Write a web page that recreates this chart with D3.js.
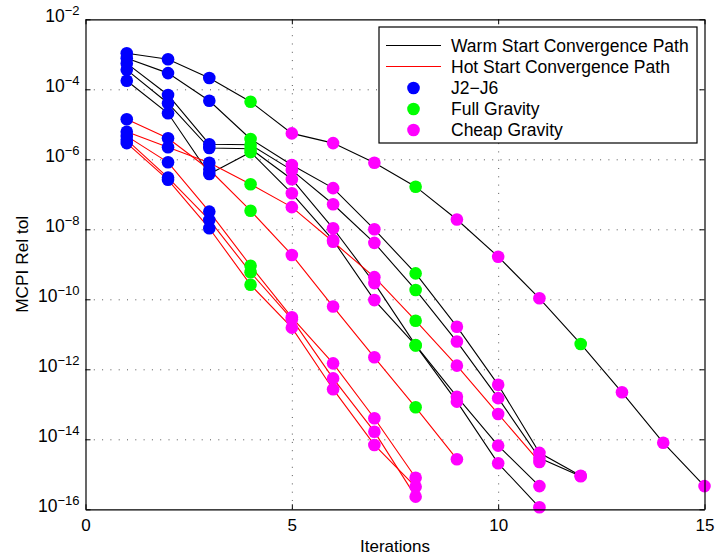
<!DOCTYPE html>
<html>
<head>
<meta charset="utf-8">
<script src="https://cdn.jsdelivr.net/npm/d3@7"></script>
<style>
  html, body { margin: 0; padding: 0; background: #fff; }
  svg { display: block; font-family: "Liberation Sans", Arial, Helvetica, sans-serif; }
</style>
</head>
<body>
<svg id="chart" width="716" height="558"></svg>
<script>
// MCPI relative tolerance per iteration; each array is one convergence run,
// first value at iteration 1.
const warm1 = [1.07e-3, 7.2e-4, 2.1e-4, 4.4e-5, 5.5e-6, 2.9e-6, 8.0e-7, 1.65e-7, 1.9e-8, 1.65e-9, 1.07e-10, 5.3e-12, 2.2e-13, 8.0e-15, 4.6e-16];
const warm2 = [7.7e-4, 2.9e-4, 4.7e-5, 3.8e-6, 6.9e-7, 1.5e-7, 1.0e-8, 5.5e-10, 1.65e-11, 3.6e-13, 4.1e-15, 9.1e-16];
const warm3 = [5.5e-4, 6.9e-5, 2.7e-6, 2.6e-6, 4.9e-7, 5.2e-8, 4.1e-9, 1.85e-10, 6.2e-12, 1.5e-13, 2.9e-15, 8.8e-16];
const warm4 = [3.6e-4, 4.0e-5, 2.1e-6, 2.0e-6, 2.7e-7, 1.07e-8, 2.9e-10, 4.9e-12, 1.65e-13, 6.6e-15, 4.6e-16];
const warm5 = [1.76e-4, 2.06e-5, 3.8e-7, 1.6e-6, 1.07e-7, 4.9e-9, 9.5e-11, 4.8e-12, 1.19e-13, 2.06e-15, 1.14e-16];

const hot1 = [4.6e-6, 8.2e-7, 3.2e-8, 9.1e-10, 3.06e-11, 1.48e-12, 4.0e-14, 8.0e-16];
const hot2 = [3.6e-6, 3.0e-7, 1.85e-8, 5.9e-10, 2.7e-11, 5.5e-13, 1.65e-14, 2.3e-16];
const hot3 = [2.9e-6, 2.6e-7, 1.07e-8, 2.6e-10, 1.55e-11, 2.7e-13, 6.9e-15, 4.4e-16];
const hot4 = [1.39e-5, 4.0e-6, 5.1e-7, 3.4e-8, 1.85e-9, 6.2e-11, 2.2e-12, 8.2e-14, 2.7e-15];
const hot5 = [6.1e-6, 2.2e-6, 8.0e-7, 1.93e-7, 4.3e-8, 4.4e-9, 4.3e-10, 2.45e-11, 1.27e-12, 5.3e-14, 2.25e-15];

const warmPaths = [warm1, warm2, warm3, warm4, warm5];
const hotPaths = [hot1, hot2, hot3, hot4, hot5];

const xTicks = [0, 5, 10, 15];
const yTickExponents = [-2, -4, -6, -8, -10, -12, -14, -16];

const legendLabels = ["Warm Start Convergence Path", "Hot Start Convergence Path", "J2\u2212J6", "Full Gravity", "Cheap Gravity"];
const xLabel = "Iterations";
const yLabel = "MCPI Rel tol";

// Force model used at a given iteration of a run
const modelColors = { j2j6: "#0000ff", full: "#00ff00", cheap: "#ff00ff" };
function modelAt(iter, lastIter) {
  if (iter <= 3) return "j2j6";
  if (iter === lastIter) return "cheap";
  return iter % 4 === 0 ? "full" : "cheap";
}

const svg = d3.select("#chart");
const W = 716, H = 558;
const plot = { left: 85.5, right: 704.5, top: 19.3, bottom: 509.3 };

const x = d3.scaleLinear().domain([0, 15]).range([plot.left, plot.right]);
const y = d3.scaleLog().domain([1e-16, 1e-2]).range([plot.bottom, plot.top]);
const yTickValues = yTickExponents.map(e => Math.pow(10, e));

svg.append("rect").attr("width", W).attr("height", H).attr("fill", "#fff");

// dotted grid
const grid = svg.append("g").attr("class", "grid");
grid.append("g")
  .attr("transform", `translate(0,${plot.bottom})`)
  .call(d3.axisBottom(x).tickValues(xTicks.slice(1, -1)).tickSize(-(plot.bottom - plot.top)).tickFormat(""))
  .call(g => g.select(".domain").remove());
grid.append("g")
  .attr("transform", `translate(${plot.left},0)`)
  .call(d3.axisLeft(y).tickValues(yTickValues.slice(1, -1)).tickSize(-(plot.right - plot.left)).tickFormat(""))
  .call(g => g.select(".domain").remove());
grid.selectAll("line")
  .attr("stroke", "#555").attr("stroke-width", 1)
  .attr("stroke-dasharray", "1,7.3");

// convergence paths
const line = d3.line().x((d, i) => x(i + 1)).y(d => y(d));
const paths = svg.append("g");
paths.selectAll(".warm").data(warmPaths).join("path")
  .attr("class", "warm").attr("d", line)
  .attr("fill", "none").attr("stroke", "#000").attr("stroke-width", 1.1);
paths.selectAll(".hot").data(hotPaths).join("path")
  .attr("class", "hot").attr("d", line)
  .attr("fill", "none").attr("stroke", "#ff0000").attr("stroke-width", 1.1);

// iteration markers coloured by force model
const markerData = [];
[...warmPaths, ...hotPaths].forEach(run => {
  run.forEach((v, i) => markerData.push({ iter: i + 1, value: v, model: modelAt(i + 1, run.length) }));
});
svg.append("g").selectAll("circle").data(markerData).join("circle")
  .attr("cx", d => x(d.iter)).attr("cy", d => y(d.value)).attr("r", 6.3)
  .attr("fill", d => modelColors[d.model]);

// axes with inward ticks on all four sides
const tickLen = 5;
const axes = svg.append("g");
const xb = axes.append("g").attr("transform", `translate(0,${plot.bottom})`)
  .call(d3.axisBottom(x).tickValues(xTicks).tickSizeInner(-tickLen).tickSizeOuter(0).tickPadding(10).tickFormat(d3.format("d")));
axes.append("g").attr("transform", `translate(0,${plot.top})`)
  .call(d3.axisTop(x).tickValues(xTicks).tickSizeInner(-tickLen).tickSizeOuter(0).tickFormat(""));
const yl = axes.append("g").attr("transform", `translate(${plot.left},0)`)
  .call(d3.axisLeft(y).tickValues(yTickValues).tickSizeInner(-tickLen).tickSizeOuter(0).tickFormat(""));
axes.append("g").attr("transform", `translate(${plot.right},0)`)
  .call(d3.axisRight(y).tickValues(yTickValues).tickSizeInner(-tickLen).tickSizeOuter(0).tickFormat(""));
axes.selectAll(".domain").attr("stroke", "#000").attr("stroke-width", 1.2);
axes.selectAll(".tick line").attr("stroke", "#000").attr("stroke-width", 1);
xb.selectAll("text").attr("font-size", 17).attr("fill", "#000").attr("font-family", "Liberation Sans, Arial, sans-serif");

// power-of-ten labels on the log axis
yl.selectAll(".tick").each(function(d) {
  const e = Math.round(Math.log10(d));
  const t = d3.select(this).append("text")
    .attr("x", -6).attr("dy", "0.12em")
    .attr("text-anchor", "end").attr("fill", "#000")
    .attr("font-size", 17.5).attr("font-family", "Liberation Sans, Arial, sans-serif");
  t.append("tspan").text("10");
  t.append("tspan").attr("dy", "-0.55em").attr("font-size", 13).text("\u2212" + Math.abs(e));
});

// axis titles
svg.append("text").attr("x", (plot.left + plot.right) / 2).attr("y", 552)
  .attr("text-anchor", "middle").attr("font-size", 17).attr("fill", "#000").text(xLabel);
svg.append("text").attr("transform", `translate(28,${(plot.top + plot.bottom) / 2}) rotate(-90)`)
  .attr("text-anchor", "middle").attr("font-size", 17.3).attr("fill", "#000").text(yLabel);

// legend
const lg = svg.append("g").attr("transform", "translate(379,27)");
lg.append("rect").attr("width", 318).attr("height", 116)
  .attr("fill", "#fff").attr("stroke", "#000").attr("stroke-width", 1.2);
const rowY = [18.5, 39.5, 61, 82, 103];
const entryStyle = [
  { kind: "line", color: "#000" },
  { kind: "line", color: "#ff0000" },
  { kind: "dot", color: modelColors.j2j6 },
  { kind: "dot", color: modelColors.full },
  { kind: "dot", color: modelColors.cheap }
];
legendLabels.forEach((label, i) => {
  const row = lg.append("g").attr("transform", `translate(0,${rowY[i]})`);
  if (entryStyle[i].kind === "line") {
    row.append("line").attr("x1", 7).attr("x2", 62).attr("stroke", entryStyle[i].color).attr("stroke-width", 1.1);
  } else {
    row.append("circle").attr("cx", 34.5).attr("r", 6.3).attr("fill", entryStyle[i].color);
  }
  row.append("text").attr("x", 72).attr("dy", "0.35em").attr("font-size", 17.5).attr("fill", "#000").text(label);
});
</script>
</body>
</html>
